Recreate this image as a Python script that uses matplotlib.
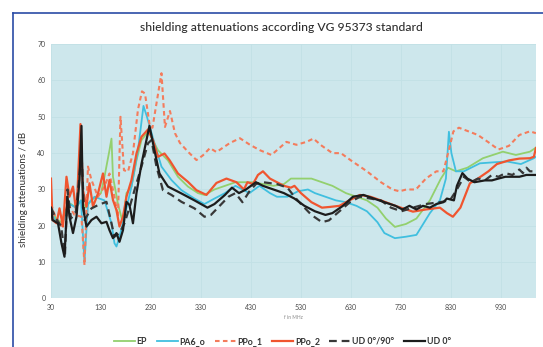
###############################################################################
# shielding attenuation chart (VG 95373)
import matplotlib
matplotlib.use('Agg')
import matplotlib.pyplot as plt
from matplotlib.lines import Line2D

###############################################################################
# DATA  (frequency in MHz, attenuation in dB)

ep_f = [30, 40, 50, 60, 70, 80, 90, 100, 110, 120, 130, 137, 147, 151, 154, 164, 174, 181, 191,
        201, 211, 225, 244, 264, 284, 304, 324, 337, 357, 378, 399, 413, 434, 454, 475, 496,
        510, 530, 551, 572, 593, 620, 641, 662, 683, 700, 718, 740, 761, 788, 810, 824, 840,
        863, 894, 934, 960, 988, 1000]
ep_v = [25, 22, 21, 24, 26, 25, 27, 25, 27, 28, 29, 33.5, 40.8, 44, 33.5, 26, 20.7, 29, 30.8,
        38, 43.6, 46, 40.8, 38, 33.5, 30.8, 29, 28.5, 30, 31, 32, 32, 32, 31.5, 31, 31.5,
        33, 33, 33, 32, 31, 29, 28, 27, 25, 22, 19.7, 20.5, 22, 27, 33, 36, 35,
        36, 38.6, 40.4, 39.5, 40.4, 41.5]

pa6_f = [30, 40, 50, 60, 67, 80, 90, 97, 104, 117, 137, 151, 157, 161, 167, 177, 191, 204, 215,
         222, 237, 251, 271, 291, 317, 337, 357, 378, 399, 413, 427, 447, 468, 482, 503, 524,
         544, 558, 579, 600, 620, 641, 662, 683, 697, 718, 740, 761, 788, 808, 820, 826, 831,
         840, 856, 888, 918, 942, 970, 996, 1000]
pa6_v = [24, 21, 20, 23, 26, 25, 27, 10, 26, 28, 27, 20.7, 15.2, 14.3, 17, 22.5, 30.8, 40.8, 53,
         50, 42.7, 36.3, 32.6, 29.8, 27.5, 26, 27.5, 29, 31, 30, 29, 31, 29, 28, 28, 29.5,
         30, 29, 28, 27, 26.5, 25.5, 24, 21, 18, 16.6, 17, 17.5, 23.5, 27, 33, 45.9, 40,
         35, 35, 37.2, 37.5, 37.7, 37, 38.6, 39]

ppo1_f = [30, 40, 50, 57, 64, 77, 91, 97, 104, 111, 124, 137, 147, 157, 164, 169, 176, 184,
          194, 204, 212, 218, 228, 233, 251, 258, 268, 278, 288, 304, 321, 334, 348, 361, 388,
          408, 428, 448, 471, 501, 521, 541, 555, 572, 593, 610, 630, 662, 690, 713, 727, 741,
          760, 780, 801, 815, 828, 835, 846, 865, 884, 905, 925, 946, 967, 988, 1000]
ppo1_v = [26, 22, 20, 24, 26, 23, 22.5, 9.2, 36.3, 32.6, 28, 30.8, 34.4, 28, 22.5, 50, 35.3, 34.9,
          40, 52, 57, 56.4, 47.2, 47, 62, 47.2, 51.6, 45.5, 42.8, 40.4, 38.1, 39.4, 41.4, 40.3, 42.8,
          44.1, 42.3, 40.8, 39.5, 43.1, 42.3, 43.1, 44, 42, 40, 40, 38, 35, 32, 30, 29.5, 30,
          30, 33, 35, 35, 42, 46, 47, 46, 45, 43, 41, 42, 45, 46, 45.5]

ppo2_f = [30, 33, 41, 47, 54, 61, 67, 74, 81, 89, 94, 101, 107, 114, 124, 134, 141, 147, 154,
          161, 167, 174, 181, 191, 201, 211, 224, 234, 244, 257, 267, 284, 304, 321, 341, 361,
          381, 401, 416, 423, 434, 444, 454, 468, 482, 496, 510, 517, 530, 551, 572, 588, 607,
          620, 648, 669, 690, 719, 754, 780, 808, 822, 834, 849, 868, 884, 905, 922, 946, 967,
          988, 996, 1000]
ppo2_v = [33, 21.6, 20.7, 24.8, 19.8, 33.5, 28, 30.8, 23.4, 48, 29.8, 25.3, 31.7, 25.3, 28.9,
          34.4, 28, 32.6, 27.1, 24.3, 19.8, 22.5, 28, 32.6, 39.9, 44.5, 46.5, 43.6, 39, 39.9,
          38.1, 34.4, 32.1, 29.8, 28.5, 31.8, 33, 32, 30, 32, 31.5, 34, 35, 33, 32, 31,
          30.5, 31, 29, 26.5, 25, 25.2, 25.5, 26.5, 28.5, 28, 27, 25.5, 23.9, 24.5, 25, 23.5,
          22.5, 25, 31.7, 33, 35, 37, 38, 38.5, 38.6, 39, 41.4]

ud90_f = [30, 40, 50, 58, 63, 70, 80, 91, 97, 111, 124, 141, 151, 157, 167, 177, 187, 197, 211,
          224, 231, 241, 254, 271, 291, 317, 337, 350, 364, 385, 399, 413, 427, 440, 454, 482,
          503, 517, 530, 551, 572, 586, 607, 628, 648, 669, 690, 710, 731, 754, 780, 808, 828,
          842, 856, 870, 884, 898, 912, 925, 939, 953, 967, 974, 981, 988, 1000]
ud90_v = [25, 22, 20, 12, 30, 22, 24, 40, 21.6, 24.8, 25.7, 26.6, 20.7, 17, 18, 20.7, 25, 29.8,
          36.3, 42.7, 43.6, 36.3, 29.8, 28.5, 26.6, 24.8, 22.5, 23, 25, 28, 29, 26.5, 29.5,
          31.5, 32, 31.5, 30.5, 28, 26, 23, 21, 21.5, 24, 26.5, 28, 27.5, 27, 25, 24, 25,
          26, 26.5, 27, 30, 33.5, 32, 33, 32.5, 34, 33.5, 34.5, 34, 35.5, 34.5, 36, 35, 35]

ud0_f = [30, 33, 44, 51, 57, 63, 67, 74, 81, 87, 91, 94, 101, 111, 121, 131, 141, 147, 154, 161,
         167, 174, 181, 187, 194, 201, 211, 221, 227, 237, 247, 264, 291, 317, 343, 357, 378,
         392, 406, 420, 440, 454, 475, 496, 517, 537, 558, 579, 593, 614, 634, 655, 676, 697,
         719, 733, 747, 761, 774, 788, 801, 815, 822, 836, 842, 853, 863, 877, 898, 912, 925,
         939, 953, 967, 981, 1000]
ud0_v = [25, 21.6, 20.7, 15.2, 11.5, 28, 22.5, 18, 22.5, 32.6, 47.5, 25, 19.8, 21.6, 22.5, 20.7,
         21.1, 18.8, 16.6, 18, 15.6, 18.8, 26.6, 25.7, 20.7, 29, 37, 43.6, 47.5, 40.8, 34.4,
         30.8, 28.9, 27, 25, 26, 28.5, 30.5, 29, 30, 32, 31, 30, 29, 27.5, 25.5, 24, 23,
         23.5, 25.5, 28, 28.5, 27.5, 26.5, 25.5, 24.5, 25.5, 24.5, 25.5, 25, 26, 26.5, 27.5,
         27, 31, 34.5, 33, 32, 32.5, 32.5, 33, 33.5, 33.5, 33.5, 34, 34]

series_names = ['EP', 'PA6_o', 'PPo_1', 'PPo_2', 'UD 0°/90°', 'UD 0°']
x_ticks = [30, 130, 230, 330, 430, 530, 630, 730, 830, 930]
y_ticks = [0, 10, 20, 30, 40, 50, 60, 70]

###############################################################################
# PLOT
plt.rcParams['font.family'] = ['Lato', 'DejaVu Sans']

fig = plt.figure(figsize=(5.43, 3.47), dpi=100)
ax = fig.add_axes([0.0939, 0.1398, 0.893, 0.733])
ax.set_facecolor('#cde7ec')

ax.plot(ep_f, ep_v, color='#93d06e', lw=1.3, label=series_names[0])
ax.plot(pa6_f, pa6_v, color='#40bfdf', lw=1.3, label=series_names[1])
ax.plot(ppo1_f, ppo1_v, color='#f47c5c', lw=1.5, ls=(0, (2.2, 1.6)), label=series_names[2])
ax.plot(ppo2_f, ppo2_v, color='#f0552f', lw=1.6, label=series_names[3])
ax.plot(ud90_f, ud90_v, color='#383838', lw=1.6, ls=(0, (3.5, 2.2)), label=series_names[4])
ax.plot(ud0_f, ud0_v, color='#1c1c1c', lw=1.6, label=series_names[5])

ax.set_xlim(30, 1000)
ax.set_ylim(0, 70)
ax.set_xticks(x_ticks)
ax.set_yticks(y_ticks)
ax.grid(True, color='#c2e0e6', lw=0.6)
ax.set_axisbelow(True)
for s in ax.spines.values():
    s.set_visible(False)
ax.tick_params(length=0, labelsize=5, labelcolor='#4a4a4a', pad=4)

ax.set_ylabel('shielding attenuations / dB', fontsize=7, color='#333333', labelpad=6)
ax.yaxis.set_label_coords(-0.047, 0.43)
ax.set_xlabel('f in MHz', fontsize=3.5, color='#888888', labelpad=3)

fig.text(0.519, 0.921, 'shielding attenuations according VG 95373 standard',
         ha='center', va='center', fontsize=8.7, color='#2e2e2e', weight='medium')

fig.legend(loc='center', bbox_to_anchor=(0.52, 0.017), ncol=6, frameon=False,
           handlelength=2.4, columnspacing=1.1, handletextpad=0.2,
           prop={'weight': 'bold', 'size': 6.3})
for t in fig.legends[0].get_texts():
    t.set_color('#333333')

# blue frame at top/left
fig.add_artist(Line2D([0.0234, 0.0234], [0, 0.963], color='#2a4ca6', lw=1.2))
fig.add_artist(Line2D([0.0234, 1.0], [0.963, 0.963], color='#2a4ca6', lw=1.2))

fig.savefig('out.png', dpi=100)
